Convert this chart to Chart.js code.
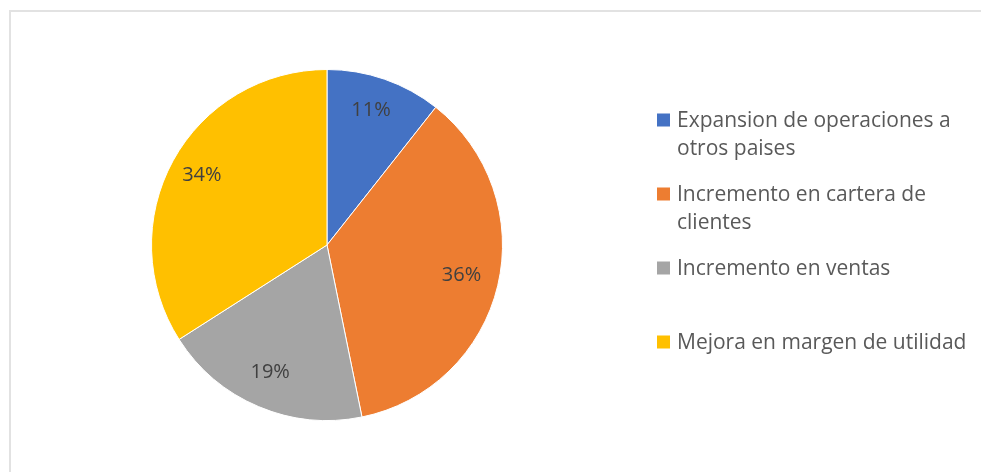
<!DOCTYPE html>
<html>
<head>
<meta charset="utf-8">
<script src="https://cdn.jsdelivr.net/npm/chart.js@4.4.1/dist/chart.umd.min.js"></script>
<style>
  html, body { margin: 0; padding: 0; background: #fff; }
  #wrap { position: relative; width: 981px; height: 472px; overflow: hidden; }
  #frame { position: absolute; left: 9px; top: 10px; width: 1000px; height: 500px;
           border: 2px solid #e2e2e2; box-sizing: border-box; }
  canvas { position: absolute; left: 0; top: 0; }
</style>
</head>
<body>
<div id="wrap">
  <div id="frame"></div>
  <canvas id="pie" width="981" height="472"></canvas>
</div>
<script>
/* ---------- DATA ---------- */
const categories = [
  "Expansion de operaciones a otros paises",
  "Incremento en cartera de clientes",
  "Incremento en ventas",
  "Mejora en margen de utilidad"
];
const counts = [5, 17, 9, 16];
const sliceColors = ["#4472C4", "#ED7D31", "#A5A5A5", "#FFC000"];

const FONT = "'Open Sans'";

/* ---------- percent labels inside the slices ---------- */
const pctLabels = {
  id: "pctLabels",
  afterDatasetsDraw(chart) {
    const ctx = chart.ctx;
    const meta = chart.getDatasetMeta(0);
    const total = counts.reduce((a, b) => a + b, 0);
    ctx.save();
    ctx.font = "20px " + FONT;
    ctx.fillStyle = "#404040";
    ctx.textAlign = "center";
    ctx.textBaseline = "middle";
    meta.data.forEach((arc, i) => {
      const p = arc.getProps(["x", "y", "startAngle", "endAngle", "outerRadius"], true);
      const mid = (p.startAngle + p.endAngle) / 2;
      const r = p.outerRadius * 0.8;
      ctx.fillText(Math.round(counts[i] / total * 100) + "%",
        p.x + Math.cos(mid) * r - 2, p.y + Math.sin(mid) * r - 2);
    });
    ctx.restore();
  }
};

/* ---------- legend on the right, wrapped like the office one ---------- */
const sideLegend = {
  id: "sideLegend",
  afterDraw(chart) {
    const ctx = chart.ctx;
    const boxX = 657, textX = 677, maxW = 298;
    const firstBase = 126.5, step = 74, lineGap = 28.5, box = 13;
    ctx.save();
    ctx.font = "21px " + FONT;
    ctx.textBaseline = "alphabetic";
    ctx.textAlign = "left";
    categories.forEach((label, i) => {
      const base = firstBase + i * step;
      ctx.fillStyle = sliceColors[i];
      ctx.fillRect(boxX, base - box, box, box);

      // simple word wrap
      const words = label.split(" ");
      const lines = [];
      let line = "";
      words.forEach(w => {
        const test = line ? line + " " + w : w;
        if (ctx.measureText(test).width > maxW && line) {
          lines.push(line);
          line = w;
        } else {
          line = test;
        }
      });
      lines.push(line);

      ctx.fillStyle = "#595959";
      lines.forEach((l, j) => ctx.fillText(l, textX, base + j * lineGap));
    });
    ctx.restore();
  }
};

new Chart(document.getElementById("pie"), {
  type: "pie",
  data: {
    labels: categories,
    datasets: [{
      data: counts,
      backgroundColor: sliceColors,
      borderColor: "#ffffff",
      borderWidth: 1
    }]
  },
  options: {
    responsive: false,
    animation: false,
    layout: { padding: { left: 151, right: 478, top: 69, bottom: 51 } },
    plugins: {
      legend: { display: false },
      tooltip: { enabled: false }
    }
  },
  plugins: [pctLabels, sideLegend]
});
</script>
</body>
</html>
